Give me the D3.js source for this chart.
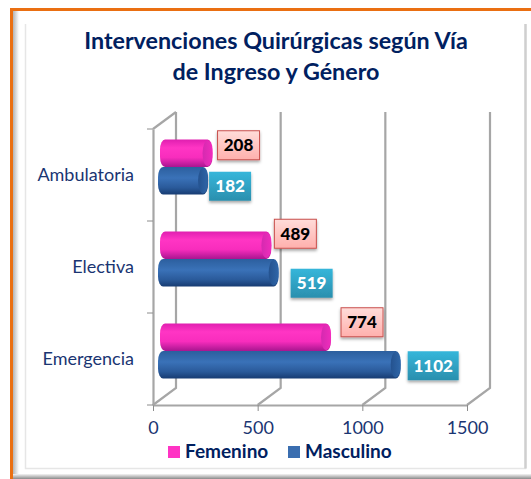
<!DOCTYPE html>
<html>
<head>
<meta charset="utf-8">
<script src="https://d3js.org/d3.v7.min.js"></script>
<style>
    html, body { margin: 0; padding: 0; background: #fff; }
    svg { display: block; }
    text { font-family: Lato, "Open Sans", sans-serif; }
</style>
</head>
<body>
<div id="chart"></div>
<script>
const title_lines = ["Intervenciones Quirúrgicas según Vía", "de Ingreso y Género"];
const categories = ["Ambulatoria", "Electiva", "Emergencia"];
const series_names = ["Femenino", "Masculino"];
const femenino = [208, 489, 774];
const masculino = [182, 519, 1102];
const x_ticks = [0, 500, 1000, 1500];

// the labels were moved by hand in the original, so each one has its own nudge
const label_nudge = {
    Femenino: [[5, -8], [3, -11.5], [10, -15]],
    Masculino: [[1, 5.5], [12, 10.5], [7, 1]]
};

const width = 531, height = 479;
const text_color = "#1a3572", title_color = "#002060", wall_color = "#a6a6a6";
const depth_x = 23, depth_y = 17;
const plot = {left: 153, right: 467, top: 129, bottom: 405};

const svg = d3.select("#chart").append("svg")
    .attr("width", width)
    .attr("height", height);

const defs = svg.append("defs");

function gradient(id, stops, x2, y2) {
    const g = defs.append("linearGradient").attr("id", id)
        .attr("x1", 0).attr("y1", 0).attr("x2", x2).attr("y2", y2);
    stops.forEach(function(s) {
        g.append("stop").attr("offset", s[0]).attr("stop-color", s[1]);
    });
}

gradient("pink-bar", [[0, "#e01fb0"], [0.3, "#ff35c4"], [0.65, "#f82dbd"], [1, "#a81590"]], 0, 1);
gradient("blue-bar", [[0, "#2c5f9e"], [0.4, "#3a72b8"], [0.75, "#2a5a9a"], [1, "#173c72"]], 0, 1);
gradient("pink-cap", [[0, "#d42ab0"], [1, "#f02cbc"]], 1, 0);
gradient("blue-cap", [[0, "#24528f"], [1, "#2f66a8"]], 1, 0);
gradient("pink-box", [[0, "#ffdcd9"], [1, "#ffb0ad"]], 0, 1);
gradient("teal-box", [[0, "#35b6da"], [1, "#2b8fae"]], 0, 1);
gradient("left-shade", [[0, "#b4b4b4"], [1, "#ffffff"]], 1, 0);
gradient("bottom-shade", [[0, "#f4f4f4"], [1, "#8a8a8a"]], 0, 1);

const shadow = defs.append("filter").attr("id", "box-shadow")
    .attr("x", "-20%").attr("y", "-20%").attr("width", "140%").attr("height", "150%");
shadow.append("feDropShadow")
    .attr("dx", 0).attr("dy", 2).attr("stdDeviation", 1.5)
    .attr("flood-color", "#000").attr("flood-opacity", 0.35);

/* рамка */
const frame = svg.append("g");
frame.append("rect").attr("x", 13).attr("y", 11).attr("width", 6).attr("height", 468).attr("fill", "url(#left-shade)");
frame.append("rect").attr("x", 13).attr("y", 474).attr("width", 518).attr("height", 5).attr("fill", "url(#bottom-shade)");
frame.append("rect").attr("x", 10).attr("y", 8).attr("width", 521).attr("height", 3).attr("fill", "#ea6f12");
frame.append("rect").attr("x", 10).attr("y", 8).attr("width", 3).attr("height", 471).attr("fill", "#ea6f12");
frame.append("path").attr("d", "M25.5,24V468.5H525.5V24")
    .attr("fill", "none").attr("stroke", "#e6e6e6").attr("stroke-width", 1.5);
frame.append("path").attr("d", "M525.5,24V468.5")
    .attr("fill", "none").attr("stroke", "#cfcfcf").attr("stroke-width", 2.5);

/* заголовок */
svg.selectAll(".title").data(title_lines).enter().append("text")
    .attr("class", "title")
    .attr("x", 276)
    .attr("y", function(d, i) { return 49 + i * 31; })
    .attr("text-anchor", "middle")
    .attr("fill", title_color)
    .attr("font-size", 23.3)
    .attr("font-weight", 700)
    .text(function(d) { return d; });

const xScale = d3.scaleLinear().domain([0, 1500]).range([plot.left, plot.right]);
const yScale = d3.scaleBand().domain(categories).range([plot.top, plot.bottom]);

/* стінки */
const walls = svg.append("g")
    .attr("fill", "none")
    .attr("stroke", wall_color)
    .attr("stroke-width", 2.2);

walls.selectAll(".wall").data(x_ticks).enter().append("path")
    .attr("class", "wall")
    .attr("d", function(d) {
        const x = xScale(d);
        return "M" + (x + depth_x) + "," + (plot.top - depth_y)
            + "V" + (plot.bottom - depth_y)
            + "L" + x + "," + plot.bottom;
    });

walls.append("path")
    .attr("d", "M" + plot.left + "," + plot.top + "L" + (plot.left + depth_x) + "," + (plot.top - depth_y));

/* осі */
const xAxis = svg.append("g")
    .attr("transform", "translate(0," + plot.bottom + ")")
    .call(d3.axisBottom(xScale).tickValues(x_ticks).tickFormat(d3.format("d"))
        .tickSize(6).tickPadding(10).tickSizeOuter(0));

const yAxis = svg.append("g")
    .attr("transform", "translate(" + plot.left + ",0)")
    .call(d3.axisLeft(yScale).tickSize(0).tickPadding(19));

[xAxis, yAxis].forEach(function(axis) {
    axis.selectAll(".domain").attr("stroke", wall_color).attr("stroke-width", 2.2);
    axis.selectAll("line").attr("stroke", "#8c8c8c").attr("stroke-width", 1);
    axis.selectAll("text")
        .attr("fill", text_color)
        .attr("font-size", 18)
        .style("font-family", "Lato");
});

// в оригіналі поділки стоять між категоріями
svg.append("g").selectAll("line")
    .data(d3.range(categories.length + 1))
    .enter().append("line")
    .attr("x1", plot.left - 6)
    .attr("x2", plot.left)
    .attr("y1", function(d) { return plot.top + d * yScale.step(); })
    .attr("y2", function(d) { return plot.top + d * yScale.step(); })
    .attr("stroke", "#8c8c8c");

/* барчики */
const bar_height = 27.5;
const cap_rx = 5;

function bar_y(i_series, category) {
    return yScale(category) + yScale.bandwidth() / 2 - 8 - (i_series === 0 ? bar_height : 0);
}

const series = [
    {name: series_names[0], values: femenino, key: "pink", start: plot.left + 7, depth: 16},
    {name: series_names[1], values: masculino, key: "blue", start: plot.left + 5, depth: 17}
];

// Masculino лежить нижче, але малюється першим, як в оригіналі
[series[1], series[0]].forEach(function(s) {
    const i_series = series.indexOf(s);
    const g = svg.append("g");

    const rows = g.selectAll(".bar")
        .data(s.values)
        .enter().append("g")
        .attr("class", "bar");

    rows.append("rect")
        .attr("x", s.start)
        .attr("y", function(d, i) { return bar_y(i_series, categories[i]); })
        .attr("width", function(d) { return xScale(d) + s.depth - s.start; })
        .attr("height", bar_height)
        .attr("rx", cap_rx)
        .attr("ry", 10)
        .attr("fill", "url(#" + s.key + "-bar)");

    rows.append("ellipse")
        .attr("cx", function(d) { return xScale(d) + s.depth - cap_rx; })
        .attr("cy", function(d, i) { return bar_y(i_series, categories[i]) + bar_height / 2; })
        .attr("rx", cap_rx)
        .attr("ry", bar_height / 2 - 1)
        .attr("fill", "url(#" + s.key + "-cap)");
});

/* підписи */
const box_height = 29;

series.forEach(function(s, i_series) {
    const labels = svg.append("g").selectAll(".value-label")
        .data(s.values)
        .enter().append("g")
        .attr("class", "value-label")
        .attr("transform", function(d, i) {
            const nudge = label_nudge[s.name][i];
            const x = xScale(d) + s.depth + nudge[0];
            const y = bar_y(i_series, categories[i]) + bar_height / 2 + nudge[1];
            return "translate(" + x + "," + y + ")";
        });

    labels.append("rect")
        .attr("y", -box_height / 2)
        .attr("width", function(d) { return d >= 1000 ? 51 : 42; })
        .attr("height", box_height)
        .attr("fill", s.key === "pink" ? "url(#pink-box)" : "url(#teal-box)")
        .attr("stroke", s.key === "pink" ? "#c9504d" : "none")
        .attr("filter", "url(#box-shadow)");

    labels.append("text")
        .attr("x", function(d) { return (d >= 1000 ? 51 : 42) / 2; })
        .attr("y", 6)
        .attr("text-anchor", "middle")
        .attr("font-size", 17)
        .attr("font-weight", 900)
        .attr("fill", s.key === "pink" ? "#000" : "#fff")
        .text(function(d) { return d; });
});

/* легенда */
const legend_x = [168, 288];
const legend_colors = ["#ff33c4", "#3a6eb0"];

const legend = svg.append("g").selectAll(".legend")
    .data(series_names)
    .enter().append("g")
    .attr("class", "legend")
    .attr("transform", function(d, i) { return "translate(" + legend_x[i] + ",446)"; });

legend.append("rect")
    .attr("width", 12)
    .attr("height", 12)
    .attr("fill", function(d, i) { return legend_colors[i]; });

legend.append("text")
    .attr("x", 17)
    .attr("y", 12)
    .attr("fill", title_color)
    .attr("font-size", 19)
    .attr("font-weight", 700)
    .text(function(d) { return d; });
</script>
</body>
</html>
